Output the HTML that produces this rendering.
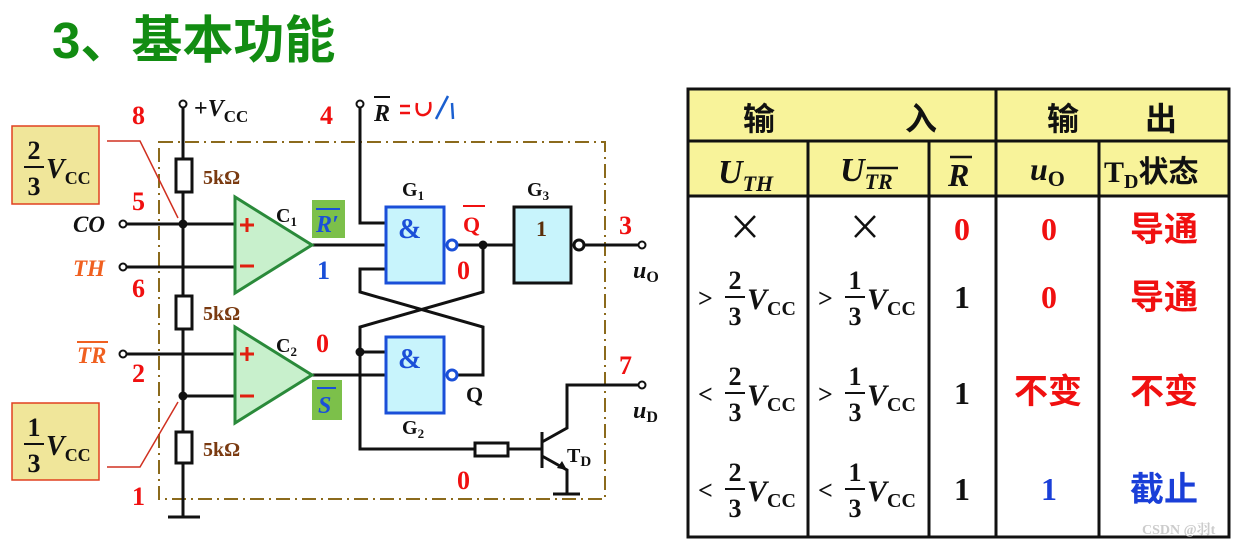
<!DOCTYPE html>
<html><head><meta charset="utf-8"><style>
html,body{margin:0;padding:0;background:#fff;width:1238px;height:550px;overflow:hidden}
svg{display:block}
text{font-family:"Liberation Serif","Noto Serif CJK SC",serif;font-weight:bold}
.cjk{font-family:"Liberation Sans","Noto Sans CJK SC",sans-serif;font-weight:bold}
</style></head><body>
<svg width="1238" height="550" viewBox="0 0 1238 550" xmlns="http://www.w3.org/2000/svg">
<text x="52" y="58" class="cjk" font-size="51" fill="#128c12">3、基本功能</text>

<rect x="159" y="142" width="446" height="357" fill="none" stroke="#8b6a1c" stroke-width="2" stroke-dasharray="14,5,2,5"/>

<g stroke="#111" stroke-width="3" fill="none">
<line x1="183" y1="108" x2="183" y2="517"/>
<line x1="168" y1="517" x2="200" y2="517"/>
<line x1="123" y1="224" x2="235" y2="224"/>
<line x1="123" y1="267" x2="235" y2="267"/>
<line x1="123" y1="354" x2="235" y2="354"/>
<line x1="183" y1="396" x2="235" y2="396"/>
<line x1="312" y1="245" x2="385" y2="245"/>
<line x1="312" y1="375" x2="385" y2="375"/>
<polyline points="360,108 360,223 385,223"/>
<polyline points="385,269 360,269 360,292 483,327 483,375 458,375"/>
<polyline points="458,245 513,245"/>
<polyline points="483,245 483,292 360,327 360,449 475,449"/>
<line x1="360" y1="352" x2="385" y2="352"/>
<line x1="508" y1="449" x2="542" y2="449"/>
<line x1="584" y1="245" x2="642" y2="245"/>
<line x1="542" y1="432" x2="542" y2="468"/>
<polyline points="542,442 567,428 567,385 642,385"/>
<polyline points="542,456 567,470 567,494"/>
<line x1="553" y1="494" x2="580" y2="494"/>
</g>
<polygon points="567,470 557,468 562,461" fill="#111"/>
<g fill="#fff" stroke="#111" stroke-width="3">
<rect x="176" y="159" width="16" height="33"/>
<rect x="176" y="296" width="16" height="33"/>
<rect x="176" y="432" width="16" height="31"/>
<rect x="475" y="443" width="33" height="13"/>
</g>
<g fill="#fff" stroke="#111" stroke-width="2">
<circle cx="183" cy="104" r="3.5"/><circle cx="360" cy="104" r="3.5"/>
<circle cx="123" cy="224" r="3.5"/><circle cx="123" cy="267" r="3.5"/><circle cx="123" cy="354" r="3.5"/>
<circle cx="642" cy="245" r="3.5"/><circle cx="642" cy="385" r="3.5"/>
</g>
<g fill="#111"><circle cx="183" cy="224" r="4.5"/><circle cx="183" cy="396" r="4.5"/><circle cx="483" cy="245" r="4.5"/><circle cx="360" cy="352" r="4.5"/></g>
<polygon points="235,197 235,293 312,245" fill="#c8f0cc" stroke="#2a8a3a" stroke-width="3"/>
<polygon points="235,327 235,423 312,375" fill="#c8f0cc" stroke="#2a8a3a" stroke-width="3"/>
<g stroke="#e02010" stroke-width="3"><line x1="240" y1="225" x2="254" y2="225"/><line x1="247" y1="218" x2="247" y2="232"/><line x1="240" y1="266" x2="254" y2="266"/>
<line x1="240" y1="354" x2="254" y2="354"/><line x1="247" y1="347" x2="247" y2="361"/><line x1="240" y1="396" x2="254" y2="396"/></g>
<rect x="386" y="207" width="58" height="76" fill="#c8f4fc" stroke="#1a4fd8" stroke-width="3"/>
<rect x="386" y="337" width="58" height="76" fill="#c8f4fc" stroke="#1a4fd8" stroke-width="3"/>
<rect x="514" y="207" width="57" height="76" fill="#c8f4fc" stroke="#111" stroke-width="3"/>
<circle cx="452" cy="245" r="5" fill="#fff" stroke="#1a4fd8" stroke-width="3"/>
<circle cx="452" cy="375" r="5" fill="#fff" stroke="#1a4fd8" stroke-width="3"/>
<circle cx="579" cy="245" r="5" fill="#fff" stroke="#111" stroke-width="3"/>
<text x="398" y="238" font-size="28" fill="#1a4fd8">&amp;</text>
<text x="398" y="368" font-size="28" fill="#1a4fd8">&amp;</text>
<text x="536" y="236" font-size="22" fill="#5a2e0a">1</text>
<rect x="312" y="200" width="33" height="38" fill="#7cc04a"/>
<rect x="312" y="380" width="30" height="40" fill="#7cc04a"/>
<text x="316" y="232" font-size="24" fill="#1a4fd8" font-style="italic">R′</text>
<line x1="316" y1="209" x2="340" y2="209" stroke="#1a4fd8" stroke-width="2"/>
<text x="318" y="413" font-size="24" fill="#1a4fd8" font-style="italic">S</text>
<line x1="317" y1="388" x2="336" y2="388" stroke="#1a4fd8" stroke-width="2"/>
<g font-size="26" fill="#f01010">
<text x="132" y="124">8</text><text x="132" y="210">5</text><text x="132" y="297">6</text><text x="132" y="382">2</text><text x="132" y="505">1</text>
<text x="320" y="124">4</text><text x="619" y="234">3</text><text x="619" y="374">7</text>
<text x="316" y="352">0</text><text x="457" y="279">0</text><text x="457" y="489">0</text>
</g>
<text x="317" y="279" font-size="26" fill="#1a4fd8">1</text>
<text x="194" y="116" font-size="24" fill="#111">+<tspan font-style="italic">V</tspan><tspan font-size="17" dy="6">CC</tspan></text>
<g font-size="20" fill="#7a3a10"><text x="203" y="184">5kΩ</text><text x="203" y="320">5kΩ</text><text x="203" y="456">5kΩ</text></g>
<text x="73" y="232" font-size="23" fill="#111" font-style="italic">CO</text>
<text x="73" y="276" font-size="23" fill="#f06020" font-style="italic">TH</text>
<text x="77" y="363" font-size="23" fill="#f06020" font-style="italic">TR</text>
<line x1="77" y1="342" x2="108" y2="342" stroke="#f06020" stroke-width="2"/>
<text x="276" y="222" font-size="20" fill="#111">C<tspan font-size="13" dy="4">1</tspan></text>
<text x="276" y="352" font-size="20" fill="#111">C<tspan font-size="13" dy="4">2</tspan></text>
<text x="402" y="196" font-size="20" fill="#111">G<tspan font-size="13" dy="4">1</tspan></text>
<text x="527" y="196" font-size="20" fill="#111">G<tspan font-size="13" dy="4">3</tspan></text>
<text x="402" y="434" font-size="20" fill="#111">G<tspan font-size="13" dy="4">2</tspan></text>
<text x="463" y="232" font-size="22" fill="#f01010">Q</text>
<line x1="463" y1="206" x2="485" y2="206" stroke="#f01010" stroke-width="2"/>
<text x="466" y="402" font-size="22" fill="#111">Q</text>
<text x="567" y="462" font-size="20" fill="#111">T<tspan font-size="15" dy="4">D</tspan></text>
<text x="633" y="278" font-size="24" fill="#111" font-style="italic">u<tspan font-size="16" dy="4" font-style="normal">O</tspan></text>
<text x="633" y="418" font-size="24" fill="#111" font-style="italic">u<tspan font-size="16" dy="4" font-style="normal">D</tspan></text>
<text x="374" y="121" font-size="24" fill="#111" font-style="italic">R</text>
<line x1="374" y1="97" x2="390" y2="97" stroke="#111" stroke-width="2"/>
<g stroke="#f01010" stroke-width="2.5" fill="none"><line x1="400" y1="106" x2="410" y2="106"/><line x1="400" y1="113" x2="410" y2="113"/><path d="M417,103 Q415,116 424,115 Q432,113 430,102"/></g>
<g stroke="#1a5fd0" stroke-width="2.5" fill="none"><path d="M436,119 L448,96"/><path d="M452,103 L453,119"/></g>
<rect x="12" y="126" width="87" height="78" fill="#f0e69a" stroke="#e04020" stroke-width="1.5"/>
<rect x="12" y="403" width="87" height="77" fill="#f0e69a" stroke="#e04020" stroke-width="1.5"/>
<g font-size="26" fill="#111" text-anchor="middle"><text x="34" y="159">2</text><text x="34" y="195">3</text><text x="34" y="436">1</text><text x="34" y="472">3</text></g>
<line x1="24" y1="167" x2="44" y2="167" stroke="#111" stroke-width="2"/>
<line x1="24" y1="444" x2="44" y2="444" stroke="#111" stroke-width="2"/>
<text x="46" y="178" font-size="28" fill="#111" font-style="italic">V<tspan font-size="18" dy="6" font-style="normal">CC</tspan></text>
<text x="46" y="455" font-size="28" fill="#111" font-style="italic">V<tspan font-size="18" dy="6" font-style="normal">CC</tspan></text>
<g stroke="#d03020" stroke-width="1.5" fill="none"><polyline points="107,141 140,141 178,218"/><polyline points="107,467 140,467 178,402"/></g>

<rect x="688" y="89" width="541" height="107" fill="#f8f39a"/>
<rect x="688" y="196" width="541" height="341" fill="#fff"/>
<g stroke="#111" stroke-width="3" fill="none">
<rect x="688" y="89" width="541" height="448"/>
<line x1="688" y1="141" x2="1229" y2="141"/>
<line x1="688" y1="196" x2="1229" y2="196"/>
<line x1="808" y1="141" x2="808" y2="537"/>
<line x1="929" y1="141" x2="929" y2="537"/>
<line x1="996" y1="89" x2="996" y2="537"/>
<line x1="1099" y1="141" x2="1099" y2="537"/>
</g>
<g font-size="32" fill="#111"><text x="743" y="130" class="cjk">输</text><text x="905" y="130" class="cjk">入</text><text x="1047" y="130" class="cjk">输</text><text x="1145" y="130" class="cjk">出</text></g>
<text x="718" y="183" font-size="34" font-style="italic" fill="#111">U<tspan font-size="22" dy="8">TH</tspan></text>
<text x="840" y="181" font-size="34" font-style="italic" fill="#111">U<tspan font-size="22" dy="8">TR</tspan></text>
<line x1="867" y1="168" x2="898" y2="168" stroke="#111" stroke-width="2.5"/>
<text x="948" y="186" font-size="32" font-style="italic" fill="#111">R</text>
<line x1="950" y1="157" x2="972" y2="157" stroke="#111" stroke-width="2.5"/>
<text x="1030" y="180" font-size="32" font-style="italic" fill="#111">u<tspan font-size="22" dy="6" font-style="normal">O</tspan></text>
<text x="1104" y="182" font-size="30" fill="#111">T<tspan font-size="20" dy="6">D</tspan><tspan dy="-6" font-family="Noto Sans CJK SC">状态</tspan></text>
<g stroke="#111" stroke-width="2.5"><line x1="735" y1="216" x2="755" y2="237"/><line x1="755" y1="216" x2="735" y2="237"/><line x1="855" y1="216" x2="875" y2="237"/><line x1="875" y1="216" x2="855" y2="237"/></g>
<g font-size="32" text-anchor="middle">
<text x="962" y="240" fill="#f01010">0</text><text x="1049" y="240" fill="#f01010">0</text>
<text x="962" y="308" fill="#111">1</text><text x="1049" y="308" fill="#f01010">0</text>
<text x="962" y="404" fill="#111">1</text>
<text x="962" y="500" fill="#111">1</text><text x="1049" y="500" fill="#1a3fd8">1</text>
</g>
<g font-size="34" text-anchor="middle">
<text x="1164" y="241" fill="#f01010" class="cjk">导通</text>
<text x="1164" y="309" fill="#f01010" class="cjk">导通</text>
<text x="1048" y="403" fill="#f01010" class="cjk">不变</text>
<text x="1164" y="403" fill="#f01010" class="cjk">不变</text>
<text x="1164" y="501" fill="#1a3fd8" class="cjk">截止</text>
</g>
<g fill="#111" font-size="26">
<g transform="translate(698,297)"><text x="0" y="10" font-weight="normal">&gt;</text><text x="37" y="-8" text-anchor="middle">2</text><line x1="27" y1="0" x2="47" y2="0" stroke="#111" stroke-width="2"/><text x="37" y="28" text-anchor="middle">3</text><text x="49" y="12" font-size="30" font-style="italic">V<tspan font-size="20" dy="6" font-style="normal">CC</tspan></text></g>
<g transform="translate(818,297)"><text x="0" y="10" font-weight="normal">&gt;</text><text x="37" y="-8" text-anchor="middle">1</text><line x1="27" y1="0" x2="47" y2="0" stroke="#111" stroke-width="2"/><text x="37" y="28" text-anchor="middle">3</text><text x="49" y="12" font-size="30" font-style="italic">V<tspan font-size="20" dy="6" font-style="normal">CC</tspan></text></g>
<g transform="translate(698,393)"><text x="0" y="10" font-weight="normal">&lt;</text><text x="37" y="-8" text-anchor="middle">2</text><line x1="27" y1="0" x2="47" y2="0" stroke="#111" stroke-width="2"/><text x="37" y="28" text-anchor="middle">3</text><text x="49" y="12" font-size="30" font-style="italic">V<tspan font-size="20" dy="6" font-style="normal">CC</tspan></text></g>
<g transform="translate(818,393)"><text x="0" y="10" font-weight="normal">&gt;</text><text x="37" y="-8" text-anchor="middle">1</text><line x1="27" y1="0" x2="47" y2="0" stroke="#111" stroke-width="2"/><text x="37" y="28" text-anchor="middle">3</text><text x="49" y="12" font-size="30" font-style="italic">V<tspan font-size="20" dy="6" font-style="normal">CC</tspan></text></g>
<g transform="translate(698,489)"><text x="0" y="10" font-weight="normal">&lt;</text><text x="37" y="-8" text-anchor="middle">2</text><line x1="27" y1="0" x2="47" y2="0" stroke="#111" stroke-width="2"/><text x="37" y="28" text-anchor="middle">3</text><text x="49" y="12" font-size="30" font-style="italic">V<tspan font-size="20" dy="6" font-style="normal">CC</tspan></text></g>
<g transform="translate(818,489)"><text x="0" y="10" font-weight="normal">&lt;</text><text x="37" y="-8" text-anchor="middle">1</text><line x1="27" y1="0" x2="47" y2="0" stroke="#111" stroke-width="2"/><text x="37" y="28" text-anchor="middle">3</text><text x="49" y="12" font-size="30" font-style="italic">V<tspan font-size="20" dy="6" font-style="normal">CC</tspan></text></g>
</g>
<text x="1142" y="534" font-size="14" fill="#ccc" font-weight="normal" font-family="Liberation Sans, Noto Sans CJK SC, sans-serif">CSDN @羽t</text>
</svg>
</body></html>
